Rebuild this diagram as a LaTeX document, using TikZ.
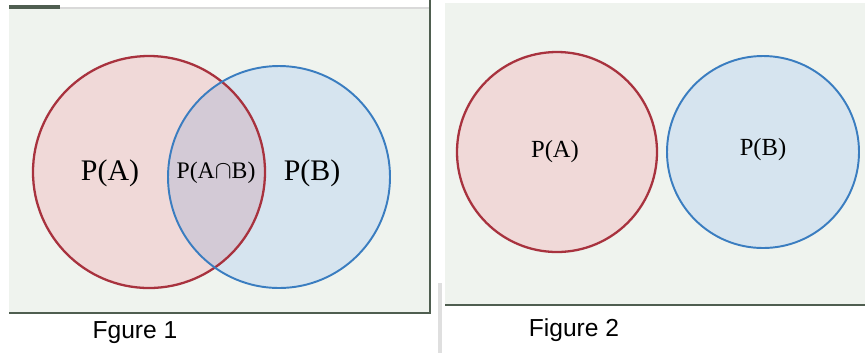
\documentclass[tikz,border=0pt]{standalone}
\usepackage{fontspec}
\setmainfont{Liberation Serif}
\newfontfamily\capfont{Liberation Sans}
\usetikzlibrary{positioning}

\definecolor{panelbg}{HTML}{EFF3EE}
\definecolor{frameline}{HTML}{4F5E50}
\definecolor{redline}{HTML}{A8323E}
\definecolor{redfill}{HTML}{F0D9D8}
\definecolor{blueline}{HTML}{3A7DC0}
\definecolor{bluefill}{HTML}{D6E4EF}
\definecolor{bothfill}{HTML}{D3CAD6}

\tikzset{
  setA/.style={draw=redline, fill=redfill, line width=1.3pt},
  setB/.style={draw=blueline, fill=bluefill, line width=1.1pt},
  biglabel/.style={font=\fontsize{17}{19}\selectfont},
  midlabel/.style={font=\fontsize{14}{16}\selectfont},
  smalllabel/.style={font=\fontsize{13.5}{15}\selectfont},
  caption/.style={font=\capfont\fontsize{14}{16}\selectfont}
}

\begin{document}
\begin{tikzpicture}[x=0.02cm, y=-0.02cm]
    \useasboundingbox (0,0) rectangle (865,353);
    \fill[white] (0,0) rectangle (865,353);

    % Figure 1 panel
    \fill[panelbg] (9,8) rectangle (430,313);
    \draw[gray!30, line width=0.6pt] (9,8) -- (430,8);
    \draw[frameline, line width=1.8pt] (9,7) -- (60,7);
    \draw[frameline, line width=1.4pt] (430,0) -- (430,313) -- (9,313);
    \fill[gray!25] (438,283) rectangle (442,353);

    % Overlapping sets
    \fill[redfill] (149,172) circle (116);
    \fill[bluefill] (279,177) circle (111);
    \begin{scope}
      \clip (149,172) circle (116);
      \fill[bothfill] (279,177) circle (111);
    \end{scope}
    \draw[redline, line width=1.3pt] (149,172) circle (116);
    \draw[blueline, line width=1.1pt] (279,177) circle (111);

    \node[biglabel] (pa) at (110,173) {P(A)};
    \node[smalllabel] (pab) at (216,173) {P(A$\cap$B)};
    \node[biglabel] (pb) at (312,173) {P(B)};
    \node[caption] (fig1) at (135,333) {Fgure 1};

    % Figure 2 panel
    \fill[panelbg] (445,3) rectangle (865,305);
    \draw[frameline, line width=1.4pt] (445,305) -- (865,305);

    % Separate sets
    \draw[setA] (557,152) circle (100);
    \draw[setB] (763,152) circle (96);

    \node[midlabel] (qa) at (555,152) {P(A)};
    \node[midlabel] (qb) at (763,150) {P(B)};
    \node[caption] (fig2) at (574,330) {Figure 2};
\end{tikzpicture}
\end{document}
